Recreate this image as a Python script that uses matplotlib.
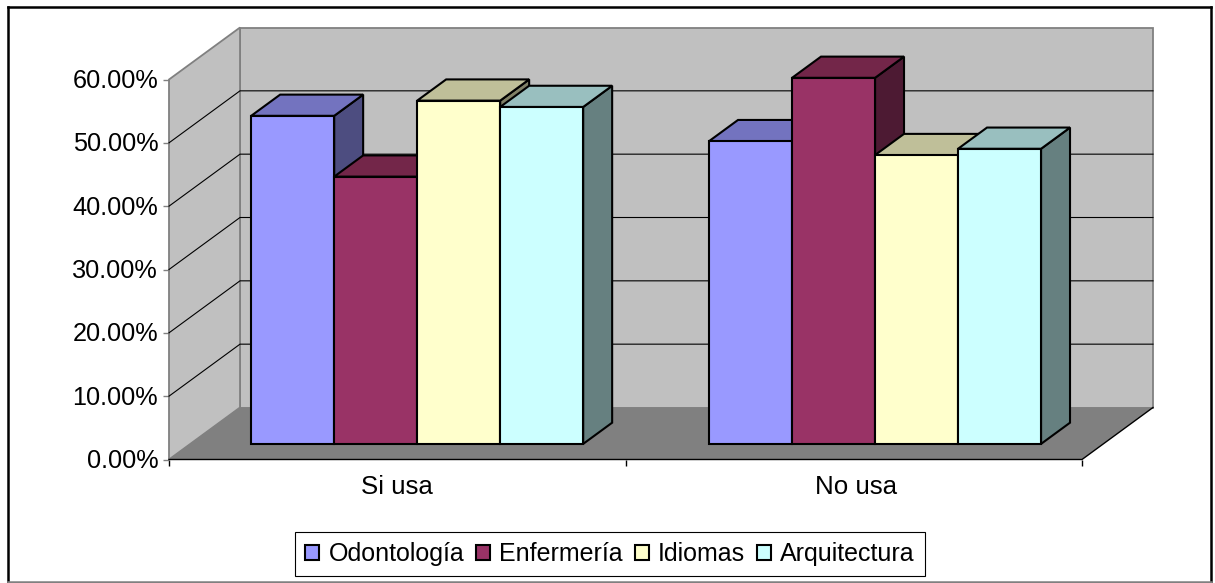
import matplotlib
matplotlib.use('Agg')
import matplotlib.pyplot as plt
from matplotlib.lines import Line2D
from matplotlib.patches import Patch, Polygon
from matplotlib.transforms import ScaledTranslation

plt.rcParams['font.family'] = ['Liberation Sans', 'DejaVu Sans']

categories = ['Si usa', 'No usa']
series = ['Odontología', 'Enfermería', 'Idiomas', 'Arquitectura']
values = [
    [51.8, 47.8],
    [42.2, 57.8],
    [54.2, 45.6],
    [53.2, 46.6],
]
yticks = [0, 10, 20, 30, 40, 50, 60]
front_colors = ['#9999FF', '#993366', '#FFFFCC', '#CCFFFF']
top_colors = ['#7373BF', '#732649', '#BFBF99', '#99BFBF']
side_colors = ['#4D4D80', '#4D1A33', '#808066', '#668080']

W, H = 1215, 583
fig = plt.figure(figsize=(W / 100, H / 100), dpi=100)
ax = fig.add_axes([169 / W, (H - 459.5) / H, 913 / W, 380 / H])
ax.set_xlim(0, 2)
ax.set_ylim(0, 60)

# depth of the fake 3d box, in data units
DX = 71 / 456.5
DY = 52 / (380 / 60)
bar_w = 1 / 5.5
bar_f0 = 0.30
bar_f1 = 0.708
group_centers = [0.497, 1.5]


def proj(x, y, f):
    return (x + f * DX, y + f * DY)


def poly(points, fc, ec='none', lw=0, z=1):
    ax.add_patch(Polygon(points, closed=True, facecolor=fc, edgecolor=ec, linewidth=lw,
                         zorder=z, clip_on=False, joinstyle='miter'))


# walls and floor
poly([proj(0, 0, 1), proj(2, 0, 1), proj(2, 60, 1), proj(0, 60, 1)], '#C0C0C0', '#808080', 1.3)
poly([proj(0, 0, 0), proj(0, 0, 1), proj(0, 60, 1), proj(0, 60, 0)], '#C0C0C0', '#808080', 1.3)
poly([proj(0, 0, 0), proj(2, 0, 0), proj(2, 0, 1), proj(0, 0, 1)], '#808080', z=1.5)
ax.plot(*zip(proj(0, 0, 0), proj(2, 0, 0), proj(2, 0, 1)), color='black', lw=1.0, zorder=2, clip_on=False)

# gridlines run along the side wall and the back wall
for v in yticks[1:-1]:
    ax.plot(*zip(proj(0, v, 0), proj(0, v, 1), proj(2, v, 1)), color='black', lw=0.8, zorder=2, clip_on=False)

# bars, left to right so that later ones cover earlier sides
for c in range(len(categories)):
    for s in range(len(series)):
        x0 = group_centers[c] + (s - 2) * bar_w
        x1 = x0 + bar_w
        v = values[s][c]
        z = 3 + c * 4 + s
        poly([proj(x0, 0, bar_f0), proj(x1, 0, bar_f0), proj(x1, v, bar_f0), proj(x0, v, bar_f0)],
             front_colors[s], 'black', 1.5, z + 0.2)
        poly([proj(x0, v, bar_f0), proj(x1, v, bar_f0), proj(x1, v, bar_f1), proj(x0, v, bar_f1)],
             top_colors[s], 'black', 1.5, z + 0.1)
        poly([proj(x1, 0, bar_f0), proj(x1, 0, bar_f1), proj(x1, v, bar_f1), proj(x1, v, bar_f0)],
             side_colors[s], 'black', 1.5, z)

# axes
for name in ['top', 'right', 'left', 'bottom']:
    ax.spines[name].set_visible(False)
ax.patch.set_visible(False)
ax.set_yticks(yticks)
ax.set_yticklabels(['%.2f%%' % v for v in yticks], fontsize=18.2, color='black')
ax.tick_params(axis='y', length=4.3, width=1, color='#808080', pad=3.5)
for label in ax.get_yticklabels():
    label.set_transform(label.get_transform() + ScaledTranslation(0, 1 / 100, fig.dpi_scale_trans))
ax.set_xticks([0, 1, 2])
ax.set_xticklabels([])
ax.set_xticks([0.5, 1.505], minor=True)
ax.set_xticklabels(categories, minor=True, fontsize=18.6)
ax.tick_params(axis='x', which='major', length=4.3, width=1, color='black')
ax.tick_params(axis='x', which='minor', length=0, pad=11.5)

# legend
handles = [Patch(facecolor=c, edgecolor='black', linewidth=1.5) for c in front_colors]
leg = fig.legend(handles, series, ncol=4, fontsize=18, frameon=True, fancybox=False, framealpha=1,
                 edgecolor='black', loc='center', bbox_to_anchor=(610 / W, (H - 554) / H),
                 handlelength=0.56, handleheight=0.55, handletextpad=0.36, columnspacing=0.48,
                 borderpad=0.4, borderaxespad=0)
leg.get_frame().set_linewidth(0.8)

# outer chart border
for (x0, y0, x1, y1, col) in [(8, 7, 1211, 7, 'black'), (8, 7, 8, 582, 'black'),
                              (1211, 7, 1211, 582, 'black'), (8, 582, 1211, 582, '#808080')]:
    fig.add_artist(Line2D([x0 / W, x1 / W], [(H - y0) / H, (H - y1) / H], color=col, lw=1.8))

fig.savefig('out.png', dpi=100)
